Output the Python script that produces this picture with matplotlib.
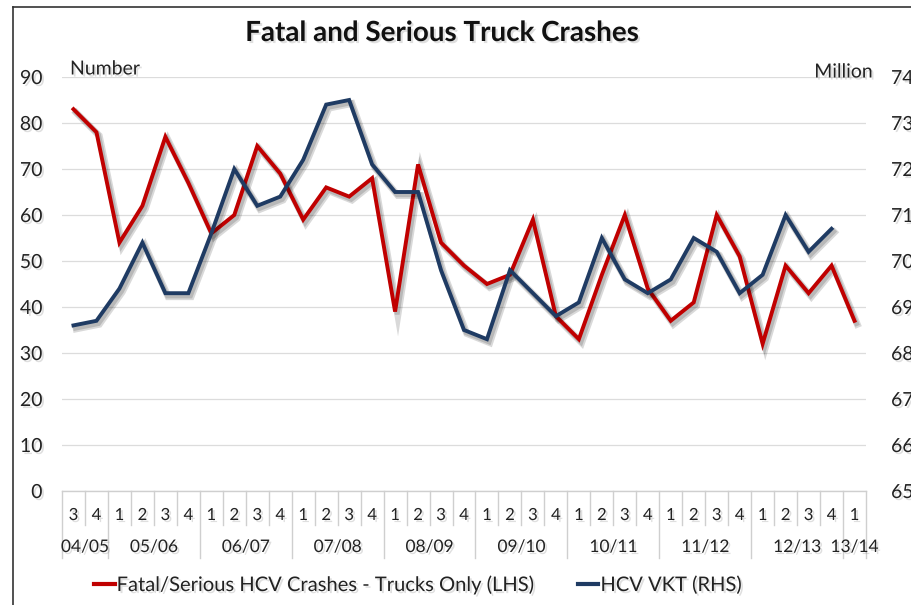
import matplotlib.pyplot as plt
import matplotlib.patheffects as pe
from matplotlib.lines import Line2D

plt.rcParams['font.family'] = ['Lato', 'DejaVu Sans']

# Quarterly series, 04/05 Q3 through 13/14 Q1
years = ['04/05', '05/06', '06/07', '07/08', '08/09',
         '09/10', '10/11', '11/12', '12/13', '13/14']
quarters = [3, 4] + [1, 2, 3, 4] * 8 + [1]

crashes = [83, 78, 54, 62, 77, 67, 56, 60, 75, 69, 59, 66, 64, 68, 39, 71, 54, 49,
           45, 47, 59, 38, 33, 47, 60, 44, 37, 41, 60, 51, 32, 49, 43, 49, 37]
vkt = [686, 687, 694, 704, 693, 693, 706, 720, 712, 714, 722, 734, 735, 721, 715, 715, 698, 685,
       683, 698, 693, 688, 691, 705, 696, 693, 696, 705, 702, 693, 697, 710, 702, 707]

RED = '#C00000'
BLUE = '#1F3B63'
W, H = 911, 605

shadow_txt = [pe.withSimplePatchShadow(offset=(1.5, -1.5), shadow_rgbFace='0.5', alpha=0.25)]
shadow_line = [pe.SimpleLineShadow(offset=(2, -2.5), shadow_color='k', alpha=0.15, linewidth=5),
               pe.SimpleLineShadow(offset=(1.5, -2), shadow_color='k', alpha=0.15, linewidth=3.5),
               pe.Normal()]

fig = plt.figure(figsize=(W / 100, H / 100), dpi=100)
ax = fig.add_axes([62 / W, (H - 491) / H, 804 / W, 414 / H])
ax2 = ax.twinx()

n = len(quarters)
x = list(range(n))

ax.plot(x, crashes, color=RED, lw=2.8, solid_joinstyle='miter', path_effects=shadow_line, zorder=3,
        label='Fatal/Serious HCV Crashes - Trucks Only (LHS)')
ax2.plot(x[:len(vkt)], vkt, color=BLUE, lw=2.8, solid_joinstyle='miter', path_effects=shadow_line,
         zorder=3, label='HCV VKT (RHS)')

ax.set_xlim(-0.5, n - 0.5)
ax.set_ylim(0, 90)
ax2.set_ylim(650, 740)
ax.set_yticks(range(0, 91, 10))
ax2.set_yticks(range(650, 741, 10))
ax.set_xticks([])

for a in (ax, ax2):
    for s in a.spines.values():
        s.set_visible(False)
    a.tick_params(axis='y', length=0, labelsize=14, colors='#222222')
ax.tick_params(axis='y', pad=14)
ax2.tick_params(axis='y', pad=18)
for t in ax.get_yticklabels() + ax2.get_yticklabels():
    t.set_path_effects(shadow_txt)

ax.yaxis.grid(True, color='#dcdcdc', lw=0.9)
ax.set_axisbelow(True)

# two-level category axis drawn as a small table under the plot
trans = ax.get_xaxis_transform()
row1 = -34 / 414
row2 = -67 / 414
ax.plot([-0.5, n - 0.5], [0, 0], color='#cfcfcf', lw=1, transform=trans, clip_on=False)
year_starts = [0] + [i for i, q in enumerate(quarters) if q == 1] + [n]
for i in range(n + 1):
    bottom = row2 if i in year_starts else row1
    ax.plot([i - 0.5, i - 0.5], [0, bottom], color='#cfcfcf', lw=1, transform=trans, clip_on=False)
for i, q in enumerate(quarters):
    ax.text(i, -24 / 414, str(q), transform=trans, ha='center', va='center', fontsize=12,
            color='#222222', path_effects=shadow_txt)
for k, yr in enumerate(years):
    a, b = year_starts[k], year_starts[k + 1]
    ax.text((a + b - 1) / 2, -56 / 414, yr, transform=trans, ha='center', va='center', fontsize=12.5,
            color='#222222', path_effects=shadow_txt)

fig.text(442 / W, 1 - 33 / H, 'Fatal and Serious Truck Crashes', ha='center', va='center',
         fontsize=20, fontweight='bold', color='#111111', path_effects=shadow_txt)
fig.text(70 / W, 1 - 69 / H, 'Number', ha='left', va='center', fontsize=14, color='#222222',
         path_effects=shadow_txt)
fig.text(873 / W, 1 - 72 / H, 'Million', ha='right', va='center', fontsize=14, color='#222222',
         path_effects=shadow_txt)

h1, l1 = ax.get_legend_handles_labels()
h2, l2 = ax2.get_legend_handles_labels()
handles = [Line2D([], [], color=RED, lw=3), Line2D([], [], color=BLUE, lw=3)]
leg = fig.legend(handles, l1 + l2, loc='center', bbox_to_anchor=(418 / W, 1 - 585 / H), ncol=2,
                 frameon=False, fontsize=14.5, handlelength=1.0, handletextpad=0.1, columnspacing=2.2)
for t in leg.get_texts():
    t.set_color('#222222')
    t.set_path_effects(shadow_txt)

# outer frame
fig.add_artist(Line2D([13 / W, 13 / W], [0, 1 - 7 / H], color='#333333', lw=1.2, transform=fig.transFigure))
fig.add_artist(Line2D([13 / W, 1], [1 - 7 / H, 1 - 7 / H], color='#333333', lw=1.2, transform=fig.transFigure))

fig.savefig('out.png', dpi=100)
